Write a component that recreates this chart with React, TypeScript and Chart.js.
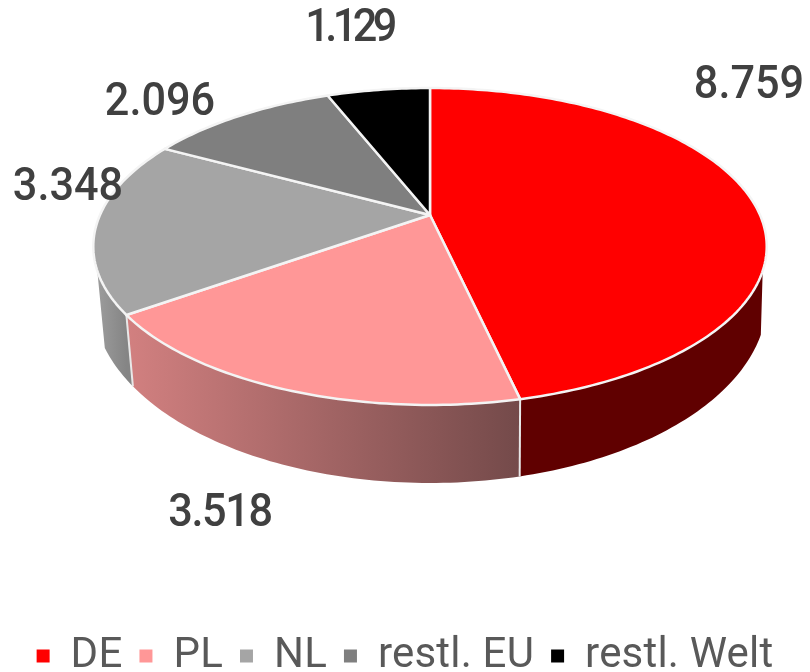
import React, { useEffect, useRef } from "react";
import { Chart, registerables } from "chart.js";

Chart.register(...registerables);

const categories = ["DE", "PL", "NL", "restl. EU", "restl. Welt"];
const values = [8759, 3518, 3348, 2096, 1129];
const faceColors = ["#ff0000", "#ff9797", "#a5a5a5", "#7f7f7f", "#000000"];
const wallLeftColors = ["#600000", "#d28080", "#9c9c9c", "#606060", "#000000"];
const wallRightColors = ["#600000", "#744a4a", "#858585", "#606060", "#000000"];
const labelCenters = [
  [749, 86],
  [220, 514],
  [68, 188],
  [160, 103],
  [349, 29],
];
const labelTracking = ["0px", "-1.5px", "0px", "0px", "-5px"];

const FONT = "Roboto, sans-serif";
const TEXT_COLOR = "#404040";
const LEGEND_COLOR = "#595959";

// Perspective of the tilted disc: the centre of the circle lands off the ellipse's centre.
const CX = 430;
const CY = 215;
const RX = 330;
const RY = 152.2;
const K = 0.1987;
// Lower rim of the extruded wall.
const BOTTOM_CY = 300;
const BOTTOM_RX = 337;
const BOTTOM_RY = 183;
// Angles (radians clockwise from 12 o'clock) between which the wall shows.
const WALL_FROM = (110 * Math.PI) / 180;
const WALL_TO = (250 * Math.PI) / 180;

function project(theta: number): [number, number] {
  const u = Math.sin(theta);
  const v = Math.cos(theta);
  const d = 1 + K * v;
  return [CX + (RX * u) / d, CY - (RY * v) / d];
}

function projectBottom(theta: number): [number, number] {
  const [x] = project(theta);
  const nx = x + (theta > Math.PI ? 8 : -2) * Math.abs(Math.sin(theta));
  const t = Math.min(1, Math.abs(nx - CX) / BOTTOM_RX);
  return [nx, BOTTOM_CY + BOTTOM_RY * Math.sqrt(1 - t * t)];
}

function samples(a: number, b: number): number[] {
  const n = Math.max(2, Math.ceil(Math.abs(b - a) / (Math.PI / 180)));
  const out: number[] = [];
  for (let i = 0; i <= n; i++) out.push(a + ((b - a) * i) / n);
  return out;
}

const disc3d = {
  id: "disc3d",
  beforeUpdate(chart: any) {
    (chart.ctx as any).letterSpacing = "0.2px";
  },
  beforeDraw(chart: any) {
    (chart.ctx as any).letterSpacing = "0.2px";
  },
  beforeDatasetsDraw(chart: any) {
    const ctx: CanvasRenderingContext2D = chart.ctx;
    const arcs = chart.getDatasetMeta(0).data;
    const angles = arcs.map((arc: any) => {
      const p = arc.getProps(["startAngle", "endAngle"], true);
      return [p.startAngle + Math.PI / 2, p.endAngle + Math.PI / 2];
    });

    ctx.save();
    // walls
    angles.forEach(([s, e]: number[], i: number) => {
      const a = Math.max(s, WALL_FROM);
      const b = Math.min(e, WALL_TO);
      if (b <= a) return;
      const ts = samples(a, b);
      const top = ts.map(project);
      const bottom = ts.map(projectBottom).reverse();
      const x0 = Math.min(...top.map((p) => p[0]));
      const x1 = Math.max(...top.map((p) => p[0]));
      const g = ctx.createLinearGradient(x0, 0, x1, 0);
      g.addColorStop(0, wallLeftColors[i]);
      g.addColorStop(1, wallRightColors[i]);
      ctx.fillStyle = g;
      ctx.beginPath();
      [...top, ...bottom].forEach((p, k) =>
        k ? ctx.lineTo(p[0], p[1]) : ctx.moveTo(p[0], p[1])
      );
      ctx.closePath();
      ctx.fill();
    });
    // wall dividers
    ctx.strokeStyle = "#e8e8e8";
    ctx.lineWidth = 2;
    angles.forEach(([s]: number[]) => {
      if (s <= WALL_FROM || s >= WALL_TO) return;
      const t = project(s);
      const b = projectBottom(s);
      ctx.beginPath();
      ctx.moveTo(t[0], t[1]);
      ctx.lineTo(b[0], b[1]);
      ctx.stroke();
    });
    // top faces
    angles.forEach(([s, e]: number[], i: number) => {
      ctx.beginPath();
      ctx.moveTo(CX, CY);
      samples(s, e).forEach((t) => {
        const p = project(t);
        ctx.lineTo(p[0], p[1]);
      });
      ctx.closePath();
      ctx.fillStyle = arcs[i].options.backgroundColor;
      ctx.fill();
      ctx.strokeStyle = "#f4f4f4";
      ctx.lineWidth = 2.5;
      ctx.lineJoin = "round";
      ctx.stroke();
    });
    // value labels, condensed a little like the reference's DIN-style face
    ctx.fillStyle = TEXT_COLOR;
    ctx.font = `500 47px ${FONT}`;
    ctx.textAlign = "center";
    ctx.textBaseline = "middle";
    values.forEach((v, i) => {
      ctx.save();
      (ctx as any).letterSpacing = labelTracking[i];
      ctx.translate(labelCenters[i][0], labelCenters[i][1]);
      ctx.scale(0.92, 1);
      ctx.fillText(v.toLocaleString("de-DE"), 0, 0);
      ctx.restore();
    });
    ctx.restore();
    return false;
  },
};

export default function App() {
  const ref = useRef<HTMLCanvasElement>(null);
  useEffect(() => {
    const chart = new Chart(ref.current!, {
      type: "pie",
      data: {
        labels: categories,
        datasets: [{ data: values, backgroundColor: faceColors, borderWidth: 0 }],
      },
      options: {
        animation: false,
        responsive: false,
        layout: { padding: { bottom: -15 } },
        plugins: {
          tooltip: { enabled: false },
          legend: {
            position: "bottom",
            labels: {
              font: { family: FONT, size: 42, weight: "400" },
              color: LEGEND_COLOR,
              boxWidth: 13,
              boxHeight: 13,
              padding: 17,
            },
          },
        },
      },
      plugins: [disc3d],
    } as any);
    return () => chart.destroy();
  }, []);
  return (
    <div style={{ position: "fixed", left: 0, top: 0, width: 810, height: 672, background: "#fff" }}>
      <canvas ref={ref} width={810} height={672} style={{ display: "block" }} />
    </div>
  );
}
